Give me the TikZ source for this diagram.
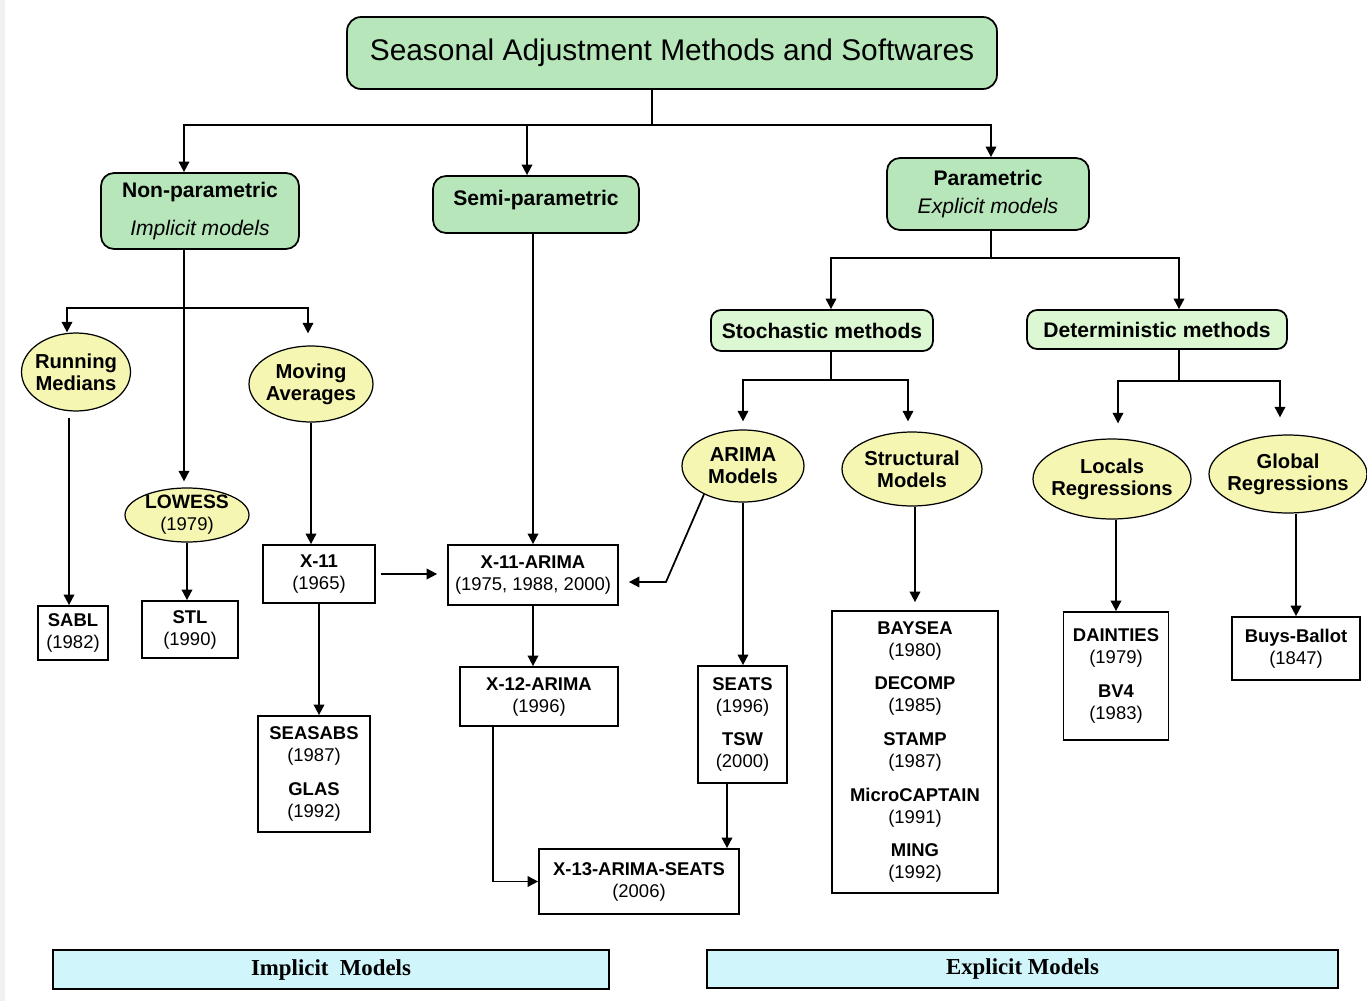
\documentclass[tikz,border=0pt]{standalone}
\usepackage{fontspec}
\setmainfont{Liberation Sans}
\newfontfamily\barfont{Liberation Serif}
\usetikzlibrary{arrows.meta,shapes.geometric}

\definecolor{headgreen}{RGB}{182,230,186}
\definecolor{subgreen}{RGB}{220,248,210}
\definecolor{methyellow}{RGB}{245,246,178}
\definecolor{barcyan}{RGB}{208,245,250}

\begin{document}
\begin{tikzpicture}[x = 0.02cm, y = -0.02cm, line width = 1pt,
    arr/.style = {-{Triangle[width = 6pt, length = 6pt]}},
    head/.style = {rectangle, draw, fill = headgreen, rounded corners = 0.26cm, align = center,
                   font = \fontsize{12}{14}\selectfont},
    sub/.style = {rectangle, draw, fill = subgreen, rounded corners = 0.2cm, align = center,
                  font = \fontsize{12}{14}\selectfont\bfseries},
    meth/.style = {ellipse, draw, line width = 0.7pt, fill = methyellow, align = center,
                   inner xsep = -6pt, inner ysep = -1pt, font = \fontsize{11.5}{12.5}\selectfont\bfseries},
    soft/.style = {rectangle, draw, fill = white, align = center, inner sep = 0pt,
                   font = \fontsize{10.5}{12.5}\selectfont},
    bar/.style = {rectangle, draw, fill = barcyan, font = \barfont\bfseries\fontsize{13}{15}\selectfont}]
  \useasboundingbox (0, 0) rectangle (1367, 1001);
  \fill [gray!12] (0, 0) rectangle (5, 1001);

  % top levels
  \node [head, minimum width = 13cm, minimum height = 1.44cm, rounded corners = 0.28cm,
         font = \fontsize{17}{20}\selectfont] (title) at (672, 53) {Seasonal Adjustment Methods and Softwares};
  \node [head, minimum width = 3.96cm, minimum height = 1.52cm] (npar) at (200, 211)
        {{\bfseries Non-parametric}\\[8pt]{\itshape Implicit models}};
  \node [head, minimum width = 4.12cm, minimum height = 1.14cm, text depth = 8pt] (spar) at (536, 204.5)
        {\bfseries Semi-parametric};
  \node [head, minimum width = 4.04cm, minimum height = 1.44cm] (par) at (988, 194)
        {{\bfseries Parametric}\\[2.4pt]{\itshape Explicit models}};
  \node [sub, minimum width = 4.44cm, minimum height = 0.82cm] (sto) at (822, 330.5) {Stochastic methods};
  \node [sub, minimum width = 5.2cm, minimum height = 0.78cm] (det) at (1157, 329.5) {Deterministic methods};

  % methods
  \node [meth, minimum width = 2.18cm, minimum height = 1.56cm] (rmed) at (76, 372) {Running\\Medians};
  \node [meth, minimum width = 2.48cm, minimum height = 1.52cm] (mavg) at (311, 384) {Moving\\Averages};
  \node [meth, minimum width = 2.48cm, minimum height = 1.08cm, font = \fontsize{11}{12.5}\selectfont\bfseries]
        (lowess) at (187, 515) {LOWESS\\{\mdseries\fontsize{10.5}{12.5}\selectfont (1979)}};
  \node [meth, minimum width = 2.44cm, minimum height = 1.44cm] (arima) at (743, 466) {ARIMA\\Models};
  \node [meth, minimum width = 2.8cm, minimum height = 1.48cm] (struc) at (912, 469) {Structural\\Models};
  \node [meth, minimum width = 3.16cm, minimum height = 1.6cm] (locr) at (1112, 479) {Locals\\Regressions};
  \node [meth, minimum width = 3.16cm, minimum height = 1.56cm] (glor) at (1288, 474) {Global\\Regressions};

  % softwares
  \node [soft, minimum width = 1.4cm, minimum height = 1.08cm] (sabl) at (73, 633) {\textbf{SABL}\\(1982)};
  \node [soft, minimum width = 1.92cm, minimum height = 1.14cm] (stl) at (190, 629.5) {\textbf{STL}\\(1990)};
  \node [soft, minimum width = 2.24cm, minimum height = 1.16cm] (x11) at (319, 574) {\textbf{X-11}\\(1965)};
  \node [soft, minimum width = 3.4cm, minimum height = 1.2cm] (x11a) at (533, 575)
        {\textbf{X-11-ARIMA}\\(1975, 1988, 2000)};
  \node [soft, minimum width = 3.16cm, minimum height = 1.18cm] (x12a) at (539, 696.5) {\textbf{X-12-ARIMA}\\(1996)};
  \node [soft, minimum width = 4cm, minimum height = 1.3cm] (x13) at (639, 881.5) {\textbf{X-13-ARIMA-SEATS}\\(2006)};
  \node [soft, minimum width = 1.78cm, minimum height = 2.34cm] (seats) at (742.5, 724.5)
        {\textbf{SEATS}\\(1996)\\[6.8pt]\textbf{TSW}\\(2000)};
  \node [soft, minimum width = 2.24cm, minimum height = 2.32cm] (seasabs) at (314, 774)
        {\textbf{SEASABS}\\(1987)\\[6.8pt]\textbf{GLAS}\\(1992)};
  \node [soft, minimum width = 3.32cm, minimum height = 5.64cm] (baysea) at (915, 752)
        {\textbf{BAYSEA}\\(1980)\\[6.7pt]\textbf{DECOMP}\\(1985)\\[6.7pt]\textbf{STAMP}\\(1987)\\[6.7pt]%
         \textbf{MicroCAPTAIN}\\(1991)\\[6.7pt]\textbf{MING}\\(1992)};
  \node [soft, minimum width = 2.1cm, minimum height = 2.56cm] (dain) at (1116, 676)
        {\textbf{DAINTIES}\\(1979)\\[6.8pt]\textbf{BV4}\\(1983)};
  \node [soft, minimum width = 2.56cm, minimum height = 1.26cm] (buys) at (1296, 648.5) {\textbf{Buys-Ballot}\\(1847)};

  \node [bar, minimum width = 11.12cm, minimum height = 0.78cm] (imp) at (331, 969.5) {Implicit\ \ Models};
  \node [bar, minimum width = 12.62cm, minimum height = 0.76cm] (exp) at (1022.5, 969) {Explicit Models};

  % connectors
  \coordinate (b1) at (652, 125);
  \coordinate (b2) at (184, 308);
  \coordinate (b3) at (991, 258);
  \coordinate (b4) at (831, 380);
  \coordinate (b5) at (1179, 381);
  \coordinate (k1) at (666, 582);
  \draw (title.south -| b1) -- (b1);
  \draw [arr] (b1) -| ([xshift = -0.32cm]npar.north);
  \draw [arr] ([xshift = -0.18cm]spar.north |- b1) -- ([xshift = -0.18cm]spar.north);
  \draw [arr] (b1) -| (b3 |- par.north);

  \draw ([xshift = -0.32cm]npar.south) -- (b2);
  \draw [arr] (b2) -| ([xshift = -0.18cm]rmed.north);
  \draw [arr, shorten > = 0.24cm] (b2) -| ([xshift = -0.06cm]mavg.north);
  \draw [arr, shorten > = 0.12cm] (b2) -- (b2 |- lowess.north);
  \draw [arr, shorten < = 0.12cm] ([xshift = -0.14cm]rmed.south) -- ([xshift = -0.14cm]rmed.south |- sabl.north);
  \draw [arr] (lowess.south) -- (lowess.south |- stl.north);
  \draw [arr] (mavg.south) -- (mavg.south |- x11.north);
  \draw [arr] (x11.south) -- (x11.south |- seasabs.north);
  \draw [arr, shorten < = 0.1cm, shorten > = 0.2cm] (x11.east) -- (x11.east -| x11a.west);
  \draw [arr] (spar.south -| x11a.north) -- (x11a.north);
  \draw [arr] (x11a.south) -- (x11a.south |- x12a.north);
  \draw [arr] ([xshift = -0.92cm]x12a.south) |- (x13.west);
  \draw [arr] ([xshift = -0.31cm]seats.south) -- ([xshift = -0.31cm]seats.south |- x13.north);
  \draw [arr] (arima.south) -- (arima.south |- seats.north);
  \draw [arr, shorten > = 0.2cm] (arima.216) -- (k1) -- (k1 -| x11a.east);

  \draw (par.south -| b3) -- (b3);
  \draw [arr] (b3) -| ([xshift = 0.18cm]sto.north);
  \draw [arr] (b3) -| ([xshift = 0.44cm]det.north);
  \draw ([xshift = 0.18cm]sto.south) -- (b4);
  \draw [arr, shorten > = 0.16cm] (b4) -| (arima.north);
  \draw [arr, shorten > = 0.2cm] (b4) -| ([xshift = -0.08cm]struc.north);
  \draw [arr, shorten > = 0.16cm] (baysea.north |- struc.south) -- (baysea.north);
  \draw ([xshift = 0.44cm]det.south) -- (b5);
  \draw [arr, shorten > = 0.3cm] (b5) -| ([xshift = 0.12cm]locr.north);
  \draw [arr, shorten > = 0.34cm] (b5) -| ([xshift = -0.16cm]glor.north);
  \draw [arr] (dain.north |- locr.south) -- (dain.north);
  \draw [arr] (buys.north |- glor.south) -- (buys.north);
\end{tikzpicture}
\end{document}
